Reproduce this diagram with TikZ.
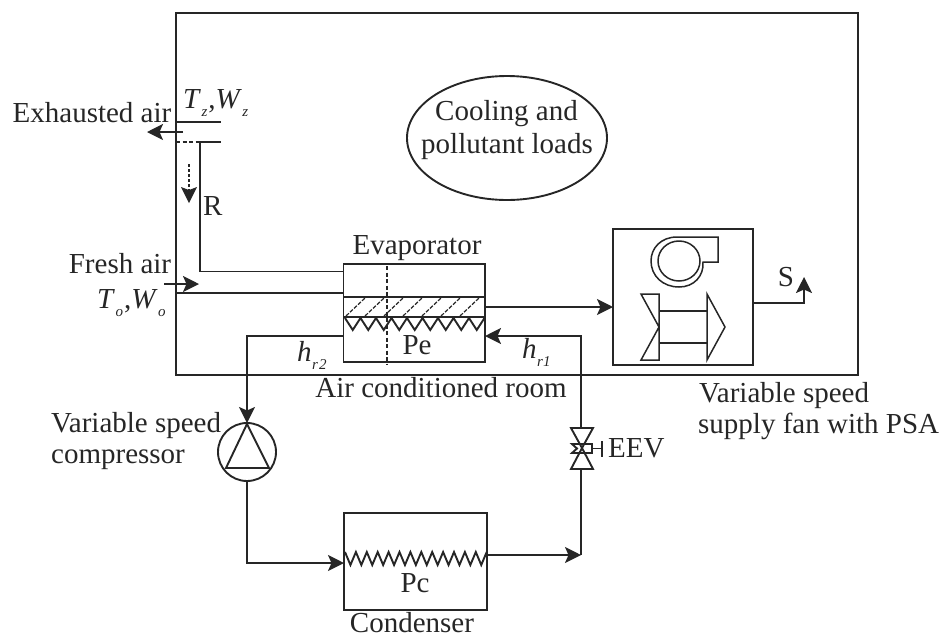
\documentclass[tikz,border=0pt]{standalone}
\usepackage{fontspec}
\setmainfont{Liberation Serif}
\usetikzlibrary{arrows.meta,shapes.geometric}
\newcommand{\ivar}[2]{\textit{#1}\kern0.5pt\raisebox{-0.28em}{\fontsize{15}{15}\selectfont\textit{#2}}}
\tikzset{
  x=1pt,y=-1pt,
  line/.style={line width=1.9pt,draw=black!85,line join=miter},
  arr/.style={line,-{Stealth[length=16pt,width=16pt,inset=3.5pt]}},
  box/.style={line,rectangle,inner sep=0pt,outer sep=0pt,anchor=north west},
  lab/.style={font=\fontsize{29}{29}\selectfont,text=black!85,inner sep=0pt,anchor=base},
  labw/.style={lab,anchor=base west},
  thin line/.style={line width=1.2pt,draw=black!85},
}
\begin{document}
\begin{tikzpicture}
\useasboundingbox (0,0) rectangle (944,638);
% room
\node[box,minimum width=682pt,minimum height=362pt] (room) at (176,13) {};
\node[line,ellipse,minimum width=200pt,minimum height=124pt,inner sep=0pt,outer sep=0pt] (loads) at (507,138) {};
\node[lab] (loadsA) at (506.5,120) {Cooling and};
\node[lab] (loadsB) at (507,153) {pollutant loads};
% evaporator
\node[box,minimum width=141.5pt,minimum height=98pt] (evap) at (343.5,264) {};
\coordinate (evL1) at (343.5,271.5);
\coordinate (evL2) at (343.5,293);
\coordinate (evL3) at (343.5,336);
\coordinate (evR1) at (485,307);
\coordinate (evR2) at (485,336);
\draw[line] (343.5,297) -- (485,297);
\draw[line] (343.5,317) -- (485,317);
\draw[line,dash pattern=on 4pt off 2.5pt,line width=1.5pt] (387,266) -- (387,364);
\foreach \x in {346,365,384,403,422,441,460}
  \draw[thin line,dash pattern=on 4pt off 1.5pt] (\x,316) -- (\x+19,298);
\draw[line] (345,318) \foreach \i in {0,...,8} { -- ++(7.75,12) -- ++(7.75,-12) };
\node[lab] (evapT) at (417,254) {Evaporator};
\node[lab] (pe) at (417,354) {Pe};
% fan box
\node[box,minimum width=140pt,minimum height=136pt] (fan) at (613,229) {};
\coordinate (fanL) at (613,307);
\coordinate (fanR) at (753,303);
\coordinate (sEnd) at (804,277);
\draw[line,line width=1.5pt] (718,237) -- (677,237) .. controls (661,237) and (651,248) .. (651,261)
  .. controls (651,276) and (663,287) .. (679,287) .. controls (694,287) and (704,276) .. (703,262) -- (718,262) -- cycle;
\draw[line,line width=1.5pt] (679,261) ellipse [x radius=21,y radius=20];
\draw[line,line width=1.5pt] (641,294) -- (659,294) -- (659,360) -- (641,360) -- (659,327) -- cycle;
\draw[line,line width=1.5pt] (707,294) -- (725,327) -- (707,360) -- cycle;
\draw[line,line width=1.5pt] (659,311) -- (707,311) (659,343) -- (707,343);
\draw[arr] (fanR) -| (sEnd);
\node[lab] (s) at (786,286) {S};
\draw[arr] (evR1) -- (fanL);
% exhaust
\coordinate (exA) at (176,122);
\coordinate (exB) at (221,122);
\coordinate (exC) at (176,142);
\coordinate (exD) at (200,142);
\coordinate (exE) at (221,142);
\draw[line] (exA) -- (exB);
\draw[line,dash pattern=on 4pt off 2.5pt] (exC) -- (exD);
\draw[line] (exD) -- (exE);
\draw[line] (exD) |- (evL1);
\coordinate (exArrS) at (183,132);
\coordinate (exArrE) at (147,132);
\draw[arr] (exArrS) -- (exArrE);
\coordinate (dashS) at (189,164);
\coordinate (dashE) at (189,203);
\draw[line,dash pattern=on 3pt off 2pt] (dashS) -- (189,190);
\fill[black!85] (dashE) -- (181,187) -- (189,190) -- (197,187) -- cycle;
\node[lab] (exT) at (92,122) {Exhausted air};
\node[labw] (tz) at (183,108) {\ivar{T}{z}\kern1pt,\ivar{W}{z}};
\node[labw] (r) at (203,215) {R};
% fresh
\coordinate (frS) at (164,284);
\coordinate (frE) at (199,284);
\coordinate (frA) at (176,293);
\draw[arr] (frS) -- (frE);
\draw[line] (frA) -- (evL2);
\node[lab] (frT) at (120,273) {Fresh air};
\node[labw] (to) at (97,308) {\ivar{T}{o}\kern1pt,\ivar{W}{o}};
% compressor
\node[line,circle,minimum size=58pt,inner sep=0pt,outer sep=0pt] (comp) at (247,452) {};
\draw[line] (247,424) -- (226,468) -- (269,468) -- cycle;
\draw[arr] (evL3) -| (comp.north);
\node[labw] (vsA) at (51,432) {Variable speed};
\node[labw] (vsB) at (51,463) {compressor};
% condenser
\node[box,minimum width=143pt,minimum height=97pt] (cond) at (344,513) {};
\coordinate (cdL) at (344,563);
\coordinate (cdR) at (487,555);
\draw[arr] (comp.south) |- (cdL);
\draw[line] (345,552) \foreach \i in {0,...,12} { -- ++(5.45,13) -- ++(5.45,-13) };
\node[lab] (pc) at (415,592) {Pc};
\node[lab] (cdT) at (412,632) {Condenser};
\coordinate (cdArr) at (581,555);
\draw[arr] (cdR) -- (cdArr);
% valve
\coordinate (vT) at (581,428);
\coordinate (vB) at (581,469);
\coordinate (vC) at (582,448);
\draw[line] (cdArr) -- (vB);
\draw[arr] (vT) |- (evR2);
\draw[line] (571,428) -- (593,428) -- (vC) -- cycle;
\draw[line] (571,469) -- (593,469) -- (vC) -- cycle;
\draw[line] (572,444) -- (592,444) -- (592,453) -- (572,453) -- (577,448.5) -- cycle;
\draw[line] (592,448.5) -- (602,448.5) (602,441) -- (602,457);
\node[labw] (eev) at (608,457) {EEV};
% labels
\node[labw] (h2) at (297,361) {\ivar{h}{r\kern1pt 2}};
\node[labw] (h1) at (522,358) {\ivar{h}{r1}};
\node[lab] (acr) at (441,397) {Air conditioned room};
\node[labw] (sfA) at (699,402) {Variable speed};
\node[labw] (sfB) at (698,433) {supply fan with PSA};
\end{tikzpicture}
\end{document}
